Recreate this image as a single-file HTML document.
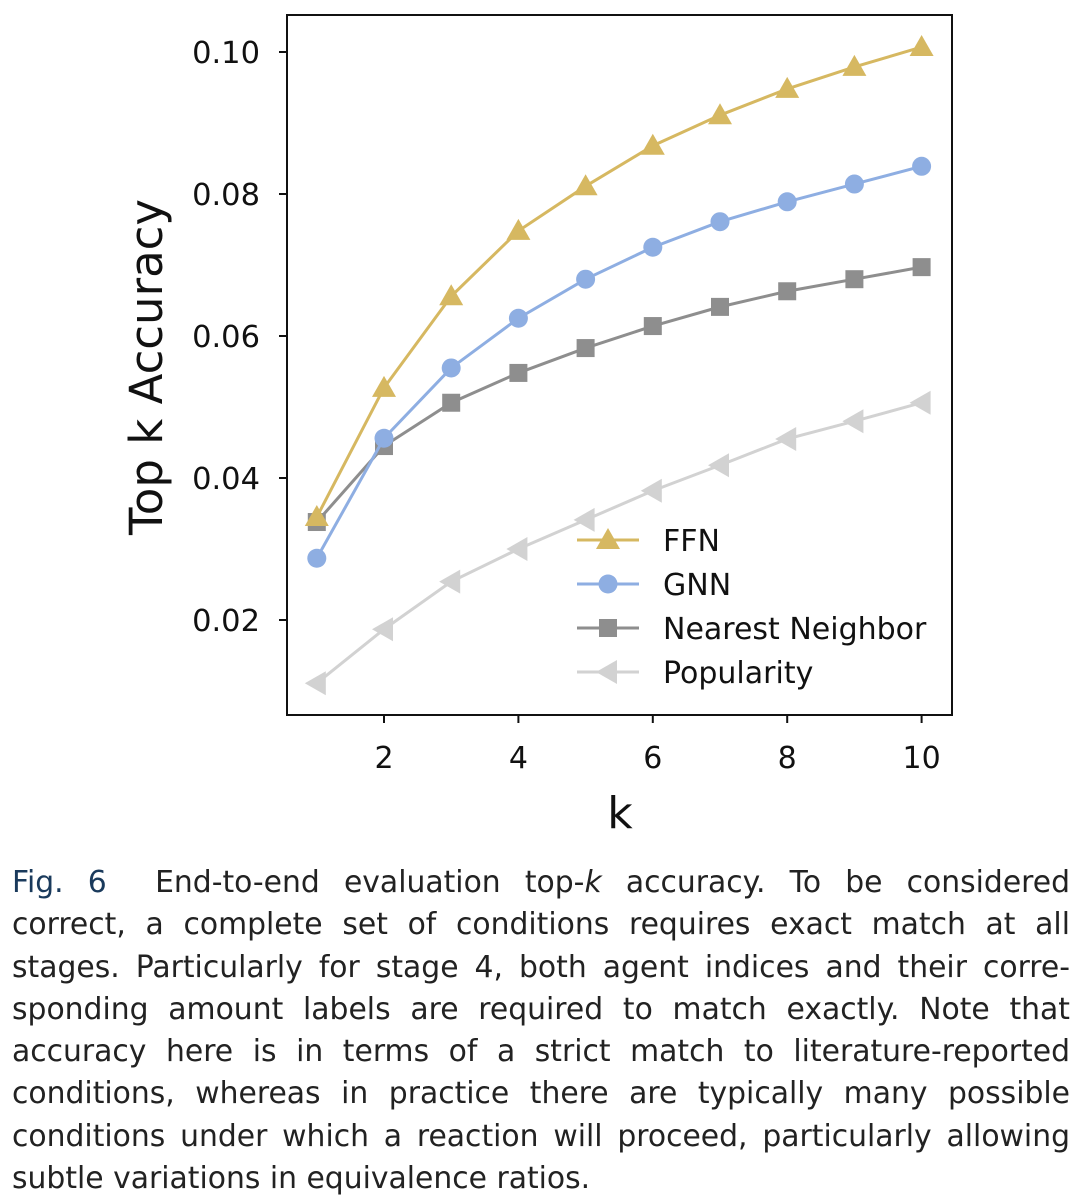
<!DOCTYPE html>
<html><head><meta charset="utf-8"><style>
body{margin:0;width:1080px;height:1202px;background:#fff;overflow:hidden;}
svg text{font-family:"DejaVu Sans","Liberation Sans",sans-serif;}
#cap{position:absolute;left:12px;top:862px;width:1058px;font-family:"DejaVu Sans","Liberation Sans",sans-serif;font-size:29.8px;color:#222;}
#cap div{height:42.3px;line-height:42.3px;text-align:justify;text-align-last:justify;white-space:nowrap;}
#cap div.last{text-align-last:left;}
</style></head><body>
<svg id="chart" width="1080" height="860" style="position:absolute;left:0;top:0"></svg>
<div id="cap">
<div><span style="color:#1a3a5c">Fig. 6</span>&nbsp; End-to-end evaluation top-<i>k</i> accuracy. To be considered</div>
<div>correct, a complete set of conditions requires exact match at all</div>
<div>stages. Particularly for stage 4, both agent indices and their corre-</div>
<div>sponding amount labels are required to match exactly. Note that</div>
<div>accuracy here is in terms of a strict match to literature-reported</div>
<div>conditions, whereas in practice there are typically many possible</div>
<div>conditions under which a reaction will proceed, particularly allowing</div>
<div class="last">subtle variations in equivalence ratios.</div>
</div>
<script>
const ks=[1,2,3,4,5,6,7,8,9,10];
const ffn=[0.0345,0.0527,0.0656,0.0748,0.0811,0.0868,0.0911,0.0948,0.0979,0.1007];
const gnn=[0.0287,0.0456,0.0555,0.0625,0.0680,0.0725,0.0761,0.0789,0.0814,0.0839];
const nn=[0.0338,0.0445,0.0506,0.0548,0.0583,0.0614,0.0641,0.0663,0.0680,0.0697];
const pop=[0.0111,0.0187,0.0254,0.0300,0.0341,0.0382,0.0418,0.0455,0.0480,0.0506];
const xTicks=[2,4,6,8,10];
const yTicks=[0.02,0.04,0.06,0.08,0.10];
const yTickLabels=["0.02","0.04","0.06","0.08","0.10"];
const NS="http://www.w3.org/2000/svg";
const svg=document.getElementById('chart');
const X=k=>384+(k-2)*67.2;
const Y=v=>620-(v-0.02)*7100;
function el(t,a,p){const e=document.createElementNS(NS,t);for(const k in a)e.setAttribute(k,a[k]);(p||svg).appendChild(e);return e;}
const frame=el('rect',{x:287,y:15,width:665,height:700,fill:'none',stroke:'#111','stroke-width':2});


xTicks.forEach(k=>{
  const g=el('g',{});
  
  
  el('line',{x1:X(k),x2:X(k),y1:715,y2:723,stroke:'#111','stroke-width':2},g);
  const t=el('text',{x:X(k),y:768,'text-anchor':'middle','font-size':30,fill:'#111'},g);t.textContent=k;
});
yTicks.forEach((v,i)=>{
  const g=el('g',{});
  
  
  el('line',{x1:279,x2:287,y1:Y(v),y2:Y(v),stroke:'#111','stroke-width':2},g);
  const t=el('text',{x:260,y:Y(v)+11,'text-anchor':'end','font-size':30.5,fill:'#111'},g);t.textContent=yTickLabels[i];
});
const xl=el('text',{x:620,y:828,'text-anchor':'middle','font-size':44,fill:'#111'});xl.textContent='k';


const yl=el('text',{x:0,y:0,'text-anchor':'middle','font-size':45,fill:'#111',transform:'translate(162,367) rotate(-90)'});yl.textContent='Top k Accuracy';


function marker(type,x,y,c,g){
  if(type==='tri')el('polygon',{points:`${x},${y-12} ${x-12},${y+9} ${x+12},${y+9}`,fill:c},g);
  else if(type==='circ')el('circle',{cx:x,cy:y,r:9.5,fill:c},g);
  else if(type==='sq')el('rect',{x:x-9,y:y-9,width:18,height:18,fill:c},g);
  else el('polygon',{points:`${x-12},${y} ${x+9},${y-12} ${x+9},${y+12}`,fill:c},g);
}
const series=[['FFN',ffn,'#d6b861','tri'],['GNN',gnn,'#8eaee2','circ'],['Nearest Neighbor',nn,'#8e8e8e','sq'],['Popularity',pop,'#d2d2d2','ltri']];
[...series].reverse().forEach(([n,d,c,m])=>{
  const g=el('g',{});
  
  
  el('polyline',{points:d.map((v,i)=>X(ks[i])+','+Y(v)).join(' '),fill:'none',stroke:c,'stroke-width':3},g);
  d.forEach((v,i)=>marker(m,X(ks[i]),Y(v),c,g));
});
series.forEach(([n,d,c,m],i)=>{
  const y=540+i*44;
  const g=el('g',{});
  
  
  el('line',{x1:577,x2:639,y1:y,y2:y,stroke:c,'stroke-width':3},g);
  marker(m,608,y,c,g);
  const t=el('text',{x:663,y:y+11,'font-size':30,fill:'#111'},g);t.textContent=n;
});
</script>
</body></html>
